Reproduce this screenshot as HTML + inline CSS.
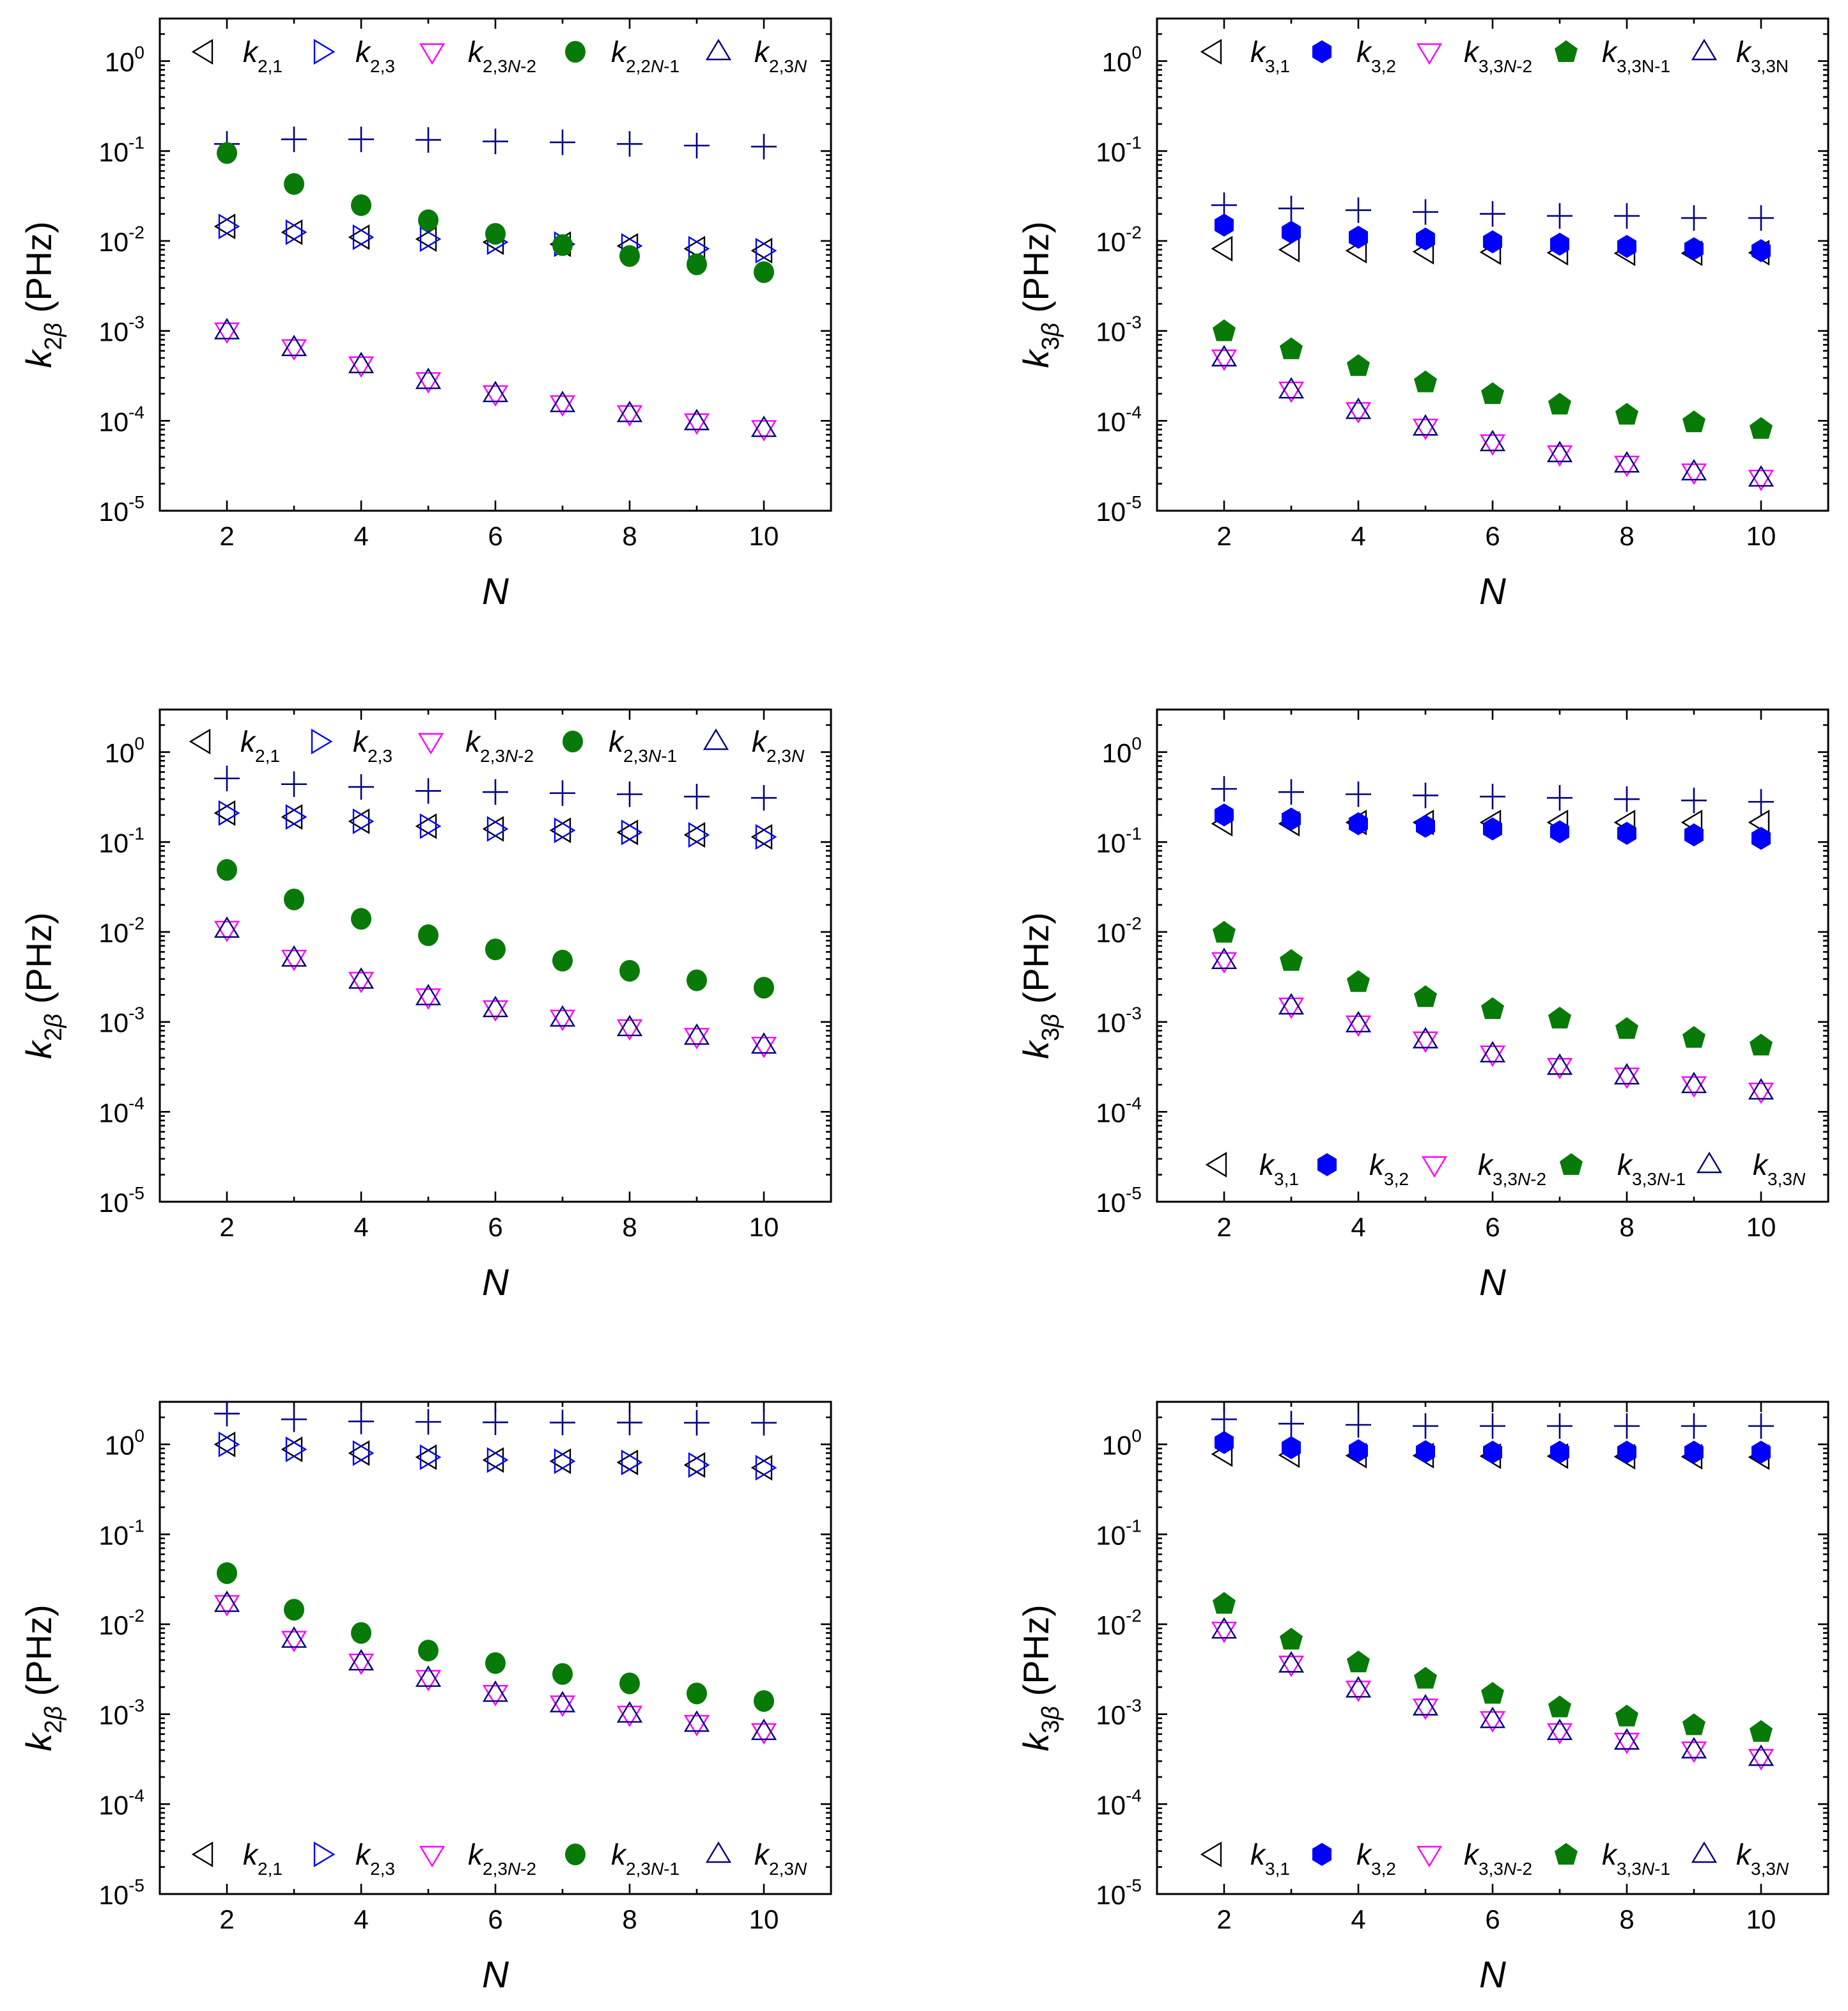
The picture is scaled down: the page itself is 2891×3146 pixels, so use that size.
<!DOCTYPE html>
<html><head><meta charset="utf-8">
<style>
html,body{margin:0;padding:0;background:#fff;}
svg{display:block;}
text{font-family:"Liberation Sans",Arial,sans-serif;}
</style></head>
<body>
<svg id="fig" xmlns="http://www.w3.org/2000/svg" width="2891" height="3146" viewBox="0 0 1445.5 1573"></svg>
<script>
// ---- data ----
const nValues = [2,3,4,5,6,7,8,9,10];
const yTickExps = [0,-1,-2,-3,-4,-5];
const xTickLabels = [2,4,6,8,10];

// panel A (top-left)
const a_plus = [0.12,0.135,0.135,0.133,0.128,0.125,0.12,0.115,0.112];
const a_k21 = [0.0145,0.0125,0.011,0.0105,0.0097,0.0092,0.0088,0.0082,0.0078];
const a_k23 = [0.0145,0.0125,0.011,0.0105,0.0097,0.0092,0.0088,0.0082,0.0078];
const a_green = [0.095,0.043,0.025,0.017,0.012,0.009,0.0068,0.0055,0.0045];
const a_down = [0.001,0.00065,0.00042,0.00028,0.0002,0.000155,0.00012,0.0000975,0.000082];
const a_up = [0.001,0.00065,0.00042,0.00028,0.0002,0.000155,0.00012,0.0000975,0.000082];
// panel B (top-right)
const b_plus = [0.025,0.023,0.022,0.021,0.02,0.019,0.019,0.018,0.018];
const b_k31 = [0.0082,0.008,0.0078,0.0076,0.0075,0.0074,0.0073,0.0073,0.0074];
const b_hex = [0.015,0.0125,0.011,0.0105,0.0098,0.0092,0.0087,0.0082,0.0078];
const b_pent = [0.001,0.00063,0.00041,0.00027,0.0002,0.000153,0.000118,0.000097,0.000082];
const b_down = [0.0005,0.00022,0.00013,0.000085,0.000057,0.000043,0.000033,0.000027,0.000023];
const b_up = [0.0005,0.00022,0.00013,0.000085,0.000057,0.000043,0.000033,0.000027,0.000023];
// panel C (mid-left)
const c_plus = [0.51,0.44,0.41,0.37,0.36,0.35,0.34,0.32,0.31];
const c_k21 = [0.21,0.19,0.17,0.15,0.14,0.135,0.128,0.12,0.114];
const c_k23 = [0.21,0.19,0.17,0.15,0.14,0.135,0.128,0.12,0.114];
const c_green = [0.049,0.023,0.014,0.0092,0.0064,0.0048,0.0037,0.0029,0.0024];
const c_down = [0.0107,0.0051,0.0029,0.0019,0.0014,0.0011,0.00086,0.00069,0.00055];
const c_up = [0.0107,0.0051,0.0029,0.0019,0.0014,0.0011,0.00086,0.00069,0.00055];
// panel D (mid-right)
const d_plus = [0.39,0.36,0.34,0.33,0.32,0.31,0.3,0.29,0.28];
const d_k31 = [0.16,0.16,0.165,0.165,0.165,0.165,0.165,0.165,0.165];
const d_hex = [0.2,0.18,0.16,0.15,0.14,0.13,0.125,0.12,0.11];
const d_pent = [0.0099,0.0048,0.0028,0.0019,0.0014,0.0011,0.00084,0.00067,0.00055];
const d_down = [0.0048,0.0015,0.00095,0.00063,0.00044,0.00032,0.00025,0.0002,0.00017];
const d_up = [0.0048,0.0015,0.00095,0.00063,0.00044,0.00032,0.00025,0.0002,0.00017];
// panel E (bottom-left)
const e_plus = [2.2,1.9,1.8,1.78,1.76,1.75,1.75,1.74,1.74];
const e_k21 = [1.0,0.88,0.8,0.72,0.67,0.65,0.63,0.59,0.55];
const e_k23 = [1.0,0.88,0.8,0.72,0.67,0.65,0.63,0.59,0.55];
const e_green = [0.037,0.0145,0.008,0.0051,0.0037,0.0028,0.0022,0.0017,0.0014];
const e_down = [0.017,0.0068,0.0038,0.0025,0.0017,0.0013,0.001,0.00079,0.00064];
const e_up = [0.017,0.0068,0.0038,0.0025,0.0017,0.0013,0.001,0.00079,0.00064];
// panel F (bottom-right)
const f_plus = [1.9,1.7,1.65,1.6,1.6,1.6,1.6,1.6,1.6];
const f_k31 = [0.78,0.76,0.75,0.75,0.74,0.74,0.73,0.73,0.72];
const f_hex = [1.05,0.92,0.85,0.83,0.82,0.82,0.82,0.82,0.82];
const f_pent = [0.017,0.0068,0.0038,0.0025,0.0017,0.0012,0.00095,0.00076,0.00064];
const f_down = [0.0086,0.0036,0.0019,0.0012,0.00087,0.00064,0.0005,0.0004,0.00033];
const f_up = [0.0086,0.0036,0.0019,0.0012,0.00087,0.00064,0.0005,0.0004,0.00033];

// ---- drawing ----
const NS = "http://www.w3.org/2000/svg";
const svg = document.getElementById('fig');
function el(tag, attrs, parent){ const e=document.createElementNS(NS,tag); for(const k in attrs) e.setAttribute(k,attrs[k]); (parent||svg).appendChild(e); return e; }

const NAVY="#000080", BLUE="#0000ff", GREEN="#087a08", MAG="#ff00ff";

function marker(g, type, cx, cy){
  let m;
  if(type==='left'){ m=el('polygon',{points:`${cx-9},${cy} ${cx+6},${cy-9} ${cx+6},${cy+9}`,fill:'none',stroke:'#000','stroke-width':1.2},g); }
  else if(type==='right'){ m=el('polygon',{points:`${cx+9},${cy} ${cx-6},${cy-9} ${cx-6},${cy+9}`,fill:'none',stroke:BLUE,'stroke-width':1.2},g); }
  else if(type==='down'){ m=el('polygon',{points:`${cx-9},${cy-6} ${cx+9},${cy-6} ${cx},${cy+9}`,fill:'none',stroke:MAG,'stroke-width':1.2},g); }
  else if(type==='up'){ m=el('polygon',{points:`${cx-9},${cy+6} ${cx+9},${cy+6} ${cx},${cy-9}`,fill:'none',stroke:NAVY,'stroke-width':1.2},g); }
  else if(type==='circle'){ m=el('ellipse',{cx:cx,cy:cy,rx:8,ry:8.5,fill:GREEN},g); }
  else if(type==='hex'){ m=el('polygon',{points:`${cx},${cy-9} ${cx+7.5},${cy-4.5} ${cx+7.5},${cy+4.5} ${cx},${cy+9} ${cx-7.5},${cy+4.5} ${cx-7.5},${cy-4.5}`,fill:BLUE},g); }
  else if(type==='pent'){ m=el('polygon',{points:`${cx},${cy-9} ${cx+9},${cy-2.5} ${cx+6},${cy+8} ${cx-6},${cy+8} ${cx-9},${cy-2.5}`,fill:GREEN},g); }
  else if(type==='plus'){ m=el('path',{d:`M${cx-10},${cy}H${cx+10}M${cx},${cy-10}V${cy+10}`,stroke:NAVY,'stroke-width':1.3,fill:'none'},g); }
  return m;
}

const PW=525, PH=385, TOPOFF=33.3;
function drawPanel(p){
  const g=el('g',{});
  
  
  const x0=p.x0, x1=p.x0+PW, y0=p.y0, y1=p.y0+PH;
  const y0dec=y0+TOPOFF, dec=(PH-TOPOFF)/5;
  const X = n => x0 + (n-1)*(x1-x0)/10;
  const Y = v => y0dec - Math.log10(v)*dec;
  const fr=el('rect',{x:x0,y:y0,width:x1-x0,height:y1-y0,fill:'none',stroke:'#000','stroke-width':1.5},g);
   
  let d='';
  for(let e=0;e>=-5;e--){
    const y=Y(Math.pow(10,e));
    d+=`M${x0},${y}h8M${x1},${y}h-8`;
    if(e>-5) for(let k=2;k<=9;k++){ const yy=Y(k*Math.pow(10,e-1)); if(yy>y1) continue; d+=`M${x0},${yy}h4M${x1},${yy}h-4`; }
  }
  { const yy=Y(2); if(yy>y0) d+=`M${x0},${yy}h4M${x1},${yy}h-4`; }
  for(let n=2;n<=10;n++){ const L=(n%2===0)?8:4; const x=X(n); d+=`M${x},${y1}v-${L}M${x},${y0}v${L}`; }
  el('path',{d:d,stroke:'#000','stroke-width':1.3,fill:'none'},g);
  yTickExps.forEach(e=>{
    const t=el('text',{x:x0-12,y:Y(Math.pow(10,e))+8,'text-anchor':'end','font-size':21},g);
     
    t.textContent='10';
    const s=el('tspan',{dy:-10,'font-size':14},t); s.textContent=String(e);
  });
  xTickLabels.forEach(n=>{
    const t=el('text',{x:X(n),y:y1+27,'text-anchor':'middle','font-size':21},g);
     
    t.textContent=String(n);
  });
  const xt=el('text',{x:(x0+x1)/2,y:y1+73,'text-anchor':'middle','font-size':29,'font-style':'italic'},g);
   
  xt.textContent='N';
  const yt=el('text',{x:0,y:0,'text-anchor':'middle','font-size':28,transform:`translate(${x0-85},${y0+216}) rotate(-90)`},g);
   
  const k=el('tspan',{'font-style':'italic'},yt); k.textContent='k';
  const sb=el('tspan',{dy:8,'font-size':19},yt); sb.textContent=p.sub;
  const bt=el('tspan',{'font-style':'italic','font-size':19},yt); bt.textContent='β';
  const rest=el('tspan',{dy:-8},yt); rest.textContent=' (PHz)';
  p.series.forEach(s=>{
    const sg=el('g',{},g);
    
    
    nValues.forEach((n,i)=>{
      const m=marker(sg,s.type,X(n),Y(s.data[i]));
      
      
    });
  });
  const lg=el('g',{},g);
  
  
  p.legend.items.forEach((it,i)=>{
    const mx=x0+p.legend.mx[i], ly=y0+p.legend.y;
    const m=marker(lg,it.type,mx,ly);
    
    
    const t=el('text',{x:x0+p.legend.lx[i],y:ly+8,'font-size':23},lg);
     
    const kk=el('tspan',{'font-style':'italic'},t); kk.textContent='k';
    it.sub.forEach((part,j)=>{ const ts=el('tspan',j===0?{dy:8,'font-size':14}:{'font-size':14},t); if(part.i) ts.setAttribute('font-style','italic'); ts.textContent=part.t; });
  });
}

const L2 = [
 {type:'left',sub:[{t:'2,1'}]},{type:'right',sub:[{t:'2,3'}]},
 {type:'down',sub:[{t:'2,3'},{t:'N',i:1},{t:'-2'}]},
 {type:'circle',sub:[{t:'2,3'},{t:'N',i:1},{t:'-1'}]},
 {type:'up',sub:[{t:'2,3'},{t:'N',i:1}]}];
const L2a = JSON.parse(JSON.stringify(L2)); L2a[3].sub=[{t:'2,2'},{t:'N',i:1},{t:'-1'}];
const L3 = [
 {type:'left',sub:[{t:'3,1'}]},{type:'hex',sub:[{t:'3,2'}]},
 {type:'down',sub:[{t:'3,3'},{t:'N',i:1},{t:'-2'}]},
 {type:'pent',sub:[{t:'3,3N-1'}]},
 {type:'up',sub:[{t:'3,3N'}]}];
const L3b = JSON.parse(JSON.stringify(L3)); L3b[3].sub=[{t:'3,3'},{t:'N',i:1},{t:'-1'}]; L3b[4].sub=[{t:'3,3'},{t:'N',i:1}];
const legL={mx:[35,127,213,325,437],lx:[65,153,241,353,465]};
const legR={mx:[44,129,213,320,428],lx:[73,156,240,348,453]};

function s2(p,k1,k3,g,dn,up){return [
 {id:'plus',type:'plus',data:p},{id:'k21',type:'left',data:k1},{id:'k23',type:'right',data:k3},
 {id:'green-circle',type:'circle',data:g},{id:'k23n2',type:'down',data:dn},{id:'k23n',type:'up',data:up}];}
function s3(p,k1,h,pe,dn,up){return [
 {id:'plus',type:'plus',data:p},{id:'k31',type:'left',data:k1},{id:'k32',type:'hex',data:h},
 {id:'k33n1',type:'pent',data:pe},{id:'k33n2',type:'down',data:dn},{id:'k33n',type:'up',data:up}];}

drawPanel({name:'panel-k2-top',x0:125,y0:14.5,sub:'2',series:s2(a_plus,a_k21,a_k23,a_green,a_down,a_up),
  legend:{...legL,y:26,items:L2a}});
drawPanel({name:'panel-k3-top',x0:905,y0:14.5,sub:'3',series:s3(b_plus,b_k31,b_hex,b_pent,b_down,b_up),
  legend:{...legR,y:26,items:L3}});
drawPanel({name:'panel-k2-middle',x0:125,y0:555,sub:'2',series:s2(c_plus,c_k21,c_k23,c_green,c_down,c_up),
  legend:{mx:[33,125,212,323,435],lx:[63,151,239,351,463],y:25,items:L2}});
drawPanel({name:'panel-k3-middle',x0:905,y0:555,sub:'3',series:s3(d_plus,d_k31,d_hex,d_pent,d_down,d_up),
  legend:{mx:[48,133,217,324,432],lx:[80,166,251,360,466],y:356,items:L3b}});
drawPanel({name:'panel-k2-bottom',x0:125,y0:1096.5,sub:'2',series:s2(e_plus,e_k21,e_k23,e_green,e_down,e_up),
  legend:{...legL,y:354,items:L2}});
drawPanel({name:'panel-k3-bottom',x0:905,y0:1096.5,sub:'3',series:s3(f_plus,f_k31,f_hex,f_pent,f_down,f_up),
  legend:{...legR,y:354,items:L3b}});
</script>
</body></html>
